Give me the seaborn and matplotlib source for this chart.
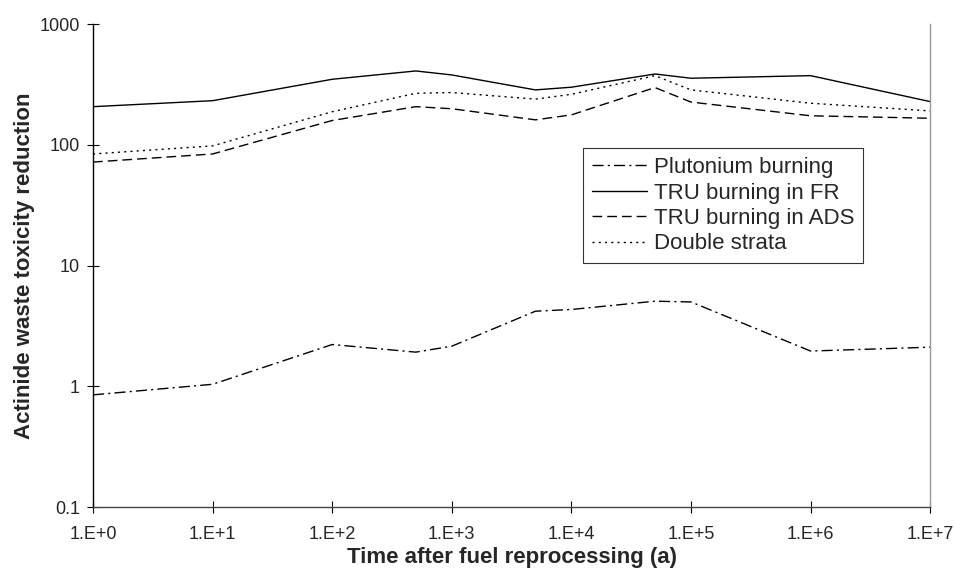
import numpy as np
import pandas as pd
import matplotlib
matplotlib.use("Agg")
import matplotlib.pyplot as plt
import seaborn as sns

sns.set_style("white")
plt.rcParams['font.family'] = ['Liberation Sans', 'DejaVu Sans']

# time after reprocessing (years)
years = [1, 10, 100, 500, 1000, 5000, 1e4, 5e4, 1e5, 1e6, 1e7]

plutonium = [0.85, 1.04, 2.22, 1.92, 2.15, 4.19, 4.33, 5.07, 5.0, 1.96, 2.11]
tru_fr = [207, 232, 349, 409, 379, 285, 300, 386, 356, 374, 228]
tru_ads = [72, 84, 159, 207, 199, 161, 177, 298, 226, 174, 166]
double_strata = [84, 98, 188, 267, 271, 239, 262, 374, 285, 221, 191]

series_names = ["Plutonium burning", "TRU burning in FR",
                "TRU burning in ADS", "Double strata"]
xtick_labels = ["1.E+%d" % i for i in range(8)]

frames = []
for name, vals in zip(series_names, [plutonium, tru_fr, tru_ads, double_strata]):
    frames.append(pd.DataFrame({"time": years, "reduction": vals, "series": name}))
df = pd.concat(frames, ignore_index=True)

dashes = {
    "Plutonium burning": (8, 3, 1.5, 3),
    "TRU burning in FR": "",
    "TRU burning in ADS": (7, 3.6),
    "Double strata": (1.5, 3),
}

fig = plt.figure(figsize=(9.55, 5.73), dpi=100)
ax = fig.add_axes([0.0974, 0.115, 0.8766, 0.843])

sns.lineplot(data=df, x="time", y="reduction", style="series",
             style_order=series_names, dashes=dashes, color="black",
             linewidth=1.0, ax=ax)

ax.set_xscale("log")
ax.set_yscale("log")
ax.set_xlim(1, 1e7)
ax.set_ylim(0.1, 1000)
ax.set_xticks([10 ** i for i in range(8)])
ax.set_xticklabels(xtick_labels)
ax.set_yticks([0.1, 1, 10, 100, 1000])
ax.set_yticklabels(["0.1", "1", "10", "100", "1000"])
ax.minorticks_off()
ax.tick_params(axis="both", which="major", direction="inout", length=9,
               width=0.8, color="black", labelsize=13, bottom=True, left=True)
ax.tick_params(axis="x", pad=9)
ax.tick_params(axis="y", pad=5)

ax.spines["top"].set_visible(False)
ax.spines["right"].set_color("#999999")
ax.spines["left"].set_color("black")
ax.spines["bottom"].set_color("#444444")
for s in ax.spines.values():
    s.set_linewidth(1.0)

ax.set_xlabel("Time after fuel reprocessing (a)", fontsize=16,
              fontweight="bold", labelpad=3)
ax.set_ylabel("Actinide waste toxicity reduction", fontsize=16,
              fontweight="bold", labelpad=3)

leg = ax.legend(loc="upper left", bbox_to_anchor=(0.585, 0.743),
                borderaxespad=0, fontsize=16, frameon=True, fancybox=False,
                handlelength=2.5, handletextpad=0.3, borderpad=0.4,
                labelspacing=0.2)
leg.get_frame().set_edgecolor("black")
leg.get_frame().set_linewidth(0.8)

fig.savefig("out.png", dpi=100)
